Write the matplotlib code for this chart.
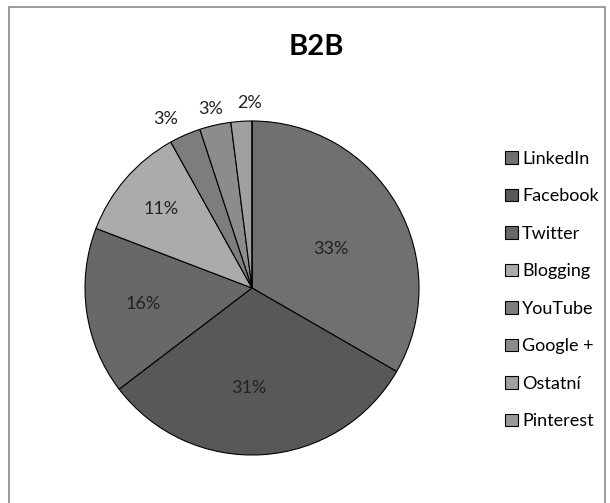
import matplotlib
matplotlib.use("Agg")
import matplotlib.pyplot as plt
from matplotlib.patches import Rectangle
import numpy as np

categories = ["LinkedIn", "Facebook", "Twitter", "Blogging", "YouTube", "Google +", "Ostatní", "Pinterest"]
values = [33, 31, 16, 11, 3, 3, 2, 0]
colors = ["#707070", "#585858", "#686868", "#ababab", "#7d7d7d", "#8c8c8c", "#a0a0a0", "#9a9a9a"]
label_radius = [0.53, 0.60, 0.66, 0.72, 1.14, 1.10, 1.11, 1.1]
label_turn = [-3.7, -5.4, 0, 0, 3.5, 0.3, -3.0, 0]
title = "B2B"

plt.rcParams['font.family'] = ['Lato', 'DejaVu Sans']

W, H = 610, 503
fig = plt.figure(figsize=(W / 100, H / 100), dpi=100)
fig.patch.set_facecolor("white")

# border
fig.add_artist(Rectangle((8.5 / W, -0.02), (605 - 8.5) / W, (H - 7) / H + 0.02,
                         transform=fig.transFigure, fill=False,
                         edgecolor="#8a8a8a", linewidth=1.2))

cx, cy, rx, ry = 252, 288, 167, 167
ax = fig.add_axes([(cx - rx) / W, (H - cy - ry) / H, 2 * rx / W, 2 * ry / H])

wedges, _ = ax.pie(values, colors=colors, startangle=90, counterclock=False,
                   wedgeprops=dict(edgecolor="black", linewidth=0.8))
ax.set_aspect('auto')
ax.set_xlim(-1, 1)
ax.set_ylim(-1, 1)
ax.axis('off')

total = sum(values)
cum = 0
for i, v in enumerate(values):
    if v == 0:
        cum += v
        continue
    mid = (cum + v / 2) / total
    ang = np.deg2rad(90 - 360 * mid + label_turn[i])
    r = label_radius[i]
    x, y = r * np.cos(ang), r * np.sin(ang)
    ax.text(x, y, f"{v}%", ha="center", va="center",
            fontsize=13, color="#222222")
    cum += v

fig.text(316 / W, 1 - 47 / H, title, ha="center", va="center",
         fontsize=21, fontweight="bold", color="black")

fig.legend(handles=wedges, labels=categories, loc="upper left",
           bbox_to_anchor=(505 / W, 1 - 151 / H), frameon=False,
           fontsize=13, labelspacing=1.19, handlelength=0.7,
           handleheight=0.7, handletextpad=0.25, borderaxespad=0,
           borderpad=0)

fig.savefig("out.png", dpi=100, facecolor="white")
